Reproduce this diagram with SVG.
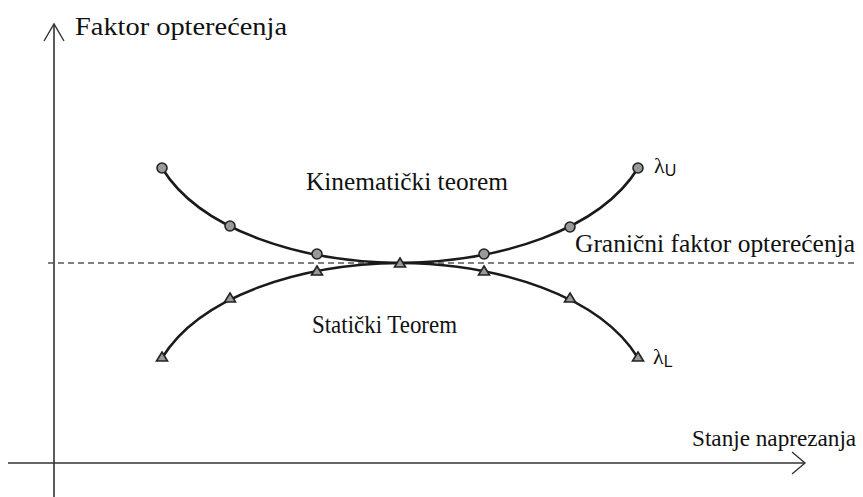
<svg xmlns="http://www.w3.org/2000/svg" width="863" height="497" viewBox="0 0 863 497">
<style>
.axis{stroke:#333;stroke-width:1.6;fill:none}
.head{stroke:#333;stroke-width:1.4;fill:none}
.curve{stroke:#1a1a1a;stroke-width:2.6;fill:none}
.dash{stroke:#555;stroke-width:1.3;stroke-dasharray:6 4;fill:none}
.circ{fill:#999;stroke:#222;stroke-width:1.6}
.tri{fill:#999;stroke:#222;stroke-width:1.6}
.t{font-family:"Liberation Serif","Times New Roman",serif;font-size:25px;fill:#111}
.lam{font-family:"Liberation Serif","Times New Roman",serif;font-size:22px;fill:#111}
.s{font-family:"Liberation Sans",Arial,sans-serif;font-size:16px;fill:#111}
.sm{font-family:"Liberation Serif","Times New Roman",serif;font-size:23.2px;fill:#111}
</style>
<defs>
<circle id="c" class="circ" r="5"/>
<polygon id="tr" class="tri" points="0,-5 5.5,4 -5.5,4"/>
</defs>
<rect width="863" height="497" fill="#fff"/>
<g id="axes">
<line class="axis" x1="54" y1="24" x2="54" y2="497"/>
<polyline class="head" points="44,41 54,24 64,41"/>
<line class="axis" x1="8" y1="463" x2="805" y2="463"/>
<polyline class="head" points="792,452 805,463 792,474"/>
</g>
<g id="limit">
<line class="dash" x1="48" y1="263" x2="858" y2="263"/>
</g>
<g id="connectors">
<path class="curve" d="M162,168 C200,230 300,262 400,263 C500,262 600,230 638,168"/>
<path class="curve" d="M162,358 C200,296 300,264 400,263 C500,264 600,296 638,358"/>
</g>
<g id="upper-points">
<use href="#c" x="162" y="168"/>
<use href="#c" x="230" y="226"/>
<use href="#c" x="317" y="254"/>
<use href="#c" x="484" y="254"/>
<use href="#c" x="570" y="227"/>
<use href="#c" x="638" y="168"/>
</g>
<g id="lower-points">
<use href="#tr" x="162" y="357"/>
<use href="#tr" x="230" y="298"/>
<use href="#tr" x="317" y="271"/>
<use href="#tr" x="400" y="263"/>
<use href="#tr" x="484" y="271"/>
<use href="#tr" x="570" y="298"/>
<use href="#tr" x="638" y="357"/>
</g>
<g id="labels">
<text class="t" x="75" y="35" textLength="212" lengthAdjust="spacingAndGlyphs">Faktor opterećenja</text>
<text class="t" x="306" y="190" textLength="202" lengthAdjust="spacingAndGlyphs">Kinematički teorem</text>
<text class="t" x="575" y="252" textLength="280" lengthAdjust="spacingAndGlyphs">Granični faktor opterećenja</text>
<text class="t" x="312" y="333" textLength="145" lengthAdjust="spacingAndGlyphs">Statički Teorem</text>
<text class="sm" x="692" y="446">Stanje naprezanja</text>
<text class="lam" x="654" y="173">λ<tspan class="s" dy="3">U</tspan></text>
<text class="lam" x="653" y="364">λ<tspan class="s" dy="3">L</tspan></text>
</g>
</svg>
